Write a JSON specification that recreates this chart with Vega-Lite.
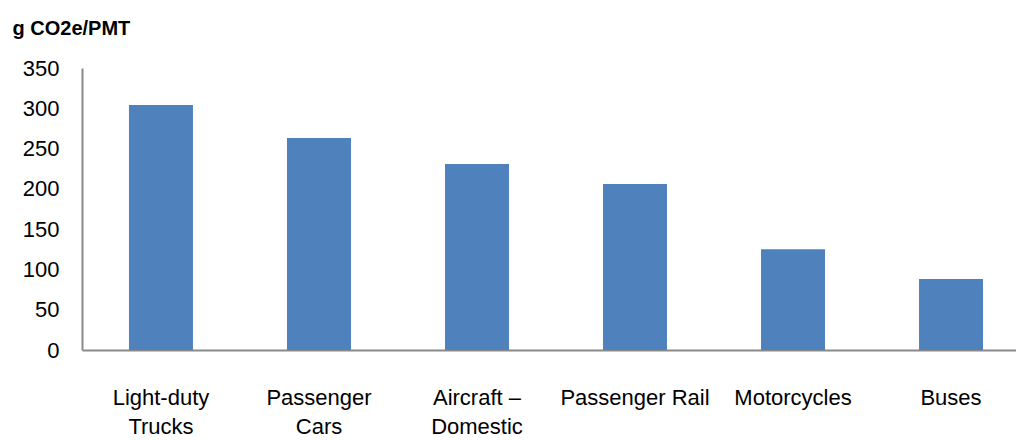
{
  "$schema": "https://vega.github.io/schema/vega-lite/v6.json",
  "width": 934,
  "height": 282,
  "autosize": {"type": "none"},
  "padding": {"left": 82, "top": 68, "right": 0, "bottom": 90},
  "background": "white",
  "data": {
    "values": [
      {"mode": "Light-duty Trucks", "value": 304},
      {"mode": "Passenger Cars", "value": 263},
      {"mode": "Aircraft – Domestic", "value": 231},
      {"mode": "Passenger Rail", "value": 206},
      {"mode": "Motorcycles", "value": 125},
      {"mode": "Buses", "value": 88}
    ]
  },
  "config": {
    "view": {"stroke": null},
    "font": "Liberation Sans"
  },
  "mark": {"type": "bar", "color": "#4F81BD"},
  "encoding": {
    "x": {
      "field": "mode",
      "type": "nominal",
      "sort": null,
      "scale": {"paddingInner": 0.595, "paddingOuter": 0.253, "align": 0.5875},
      "axis": {
        "title": null,
        "labelAngle": 0,
        "ticks": false,
        "tickSize": 0,
        "domainColor": "#898989",
        "domainWidth": 2,
        "labelFont": "Liberation Sans",
        "labelFontSize": 22,
        "labelColor": "#000000",
        "labelBaseline": "top",
        "labelPadding": 37,
        "labelLineHeight": 29,
        "labelOverlap": false,
        "labelLimit": 300,
        "labelExpr": "datum.value == 'Light-duty Trucks' ? ['Light-duty', 'Trucks'] : datum.value == 'Passenger Cars' ? ['Passenger', 'Cars'] : datum.value == 'Aircraft – Domestic' ? ['Aircraft –', 'Domestic'] : datum.value"
      }
    },
    "y": {
      "field": "value",
      "type": "quantitative",
      "scale": {"domain": [0, 350], "nice": false},
      "axis": {
        "values": [0, 50, 100, 150, 200, 250, 300, 350],
        "grid": false,
        "ticks": false,
        "tickSize": 0,
        "domainColor": "#898989",
        "domainWidth": 2,
        "labelFont": "Liberation Sans",
        "labelFontSize": 22,
        "labelColor": "#000000",
        "labelPadding": 23,
        "title": "g CO2e/PMT",
        "titleAngle": 0,
        "titleAlign": "left",
        "titleBaseline": "alphabetic",
        "titleX": -70,
        "titleY": -34,
        "titleFont": "Liberation Sans",
        "titleFontSize": 20,
        "titleFontWeight": "bold",
        "titleColor": "#000000"
      }
    }
  }
}
